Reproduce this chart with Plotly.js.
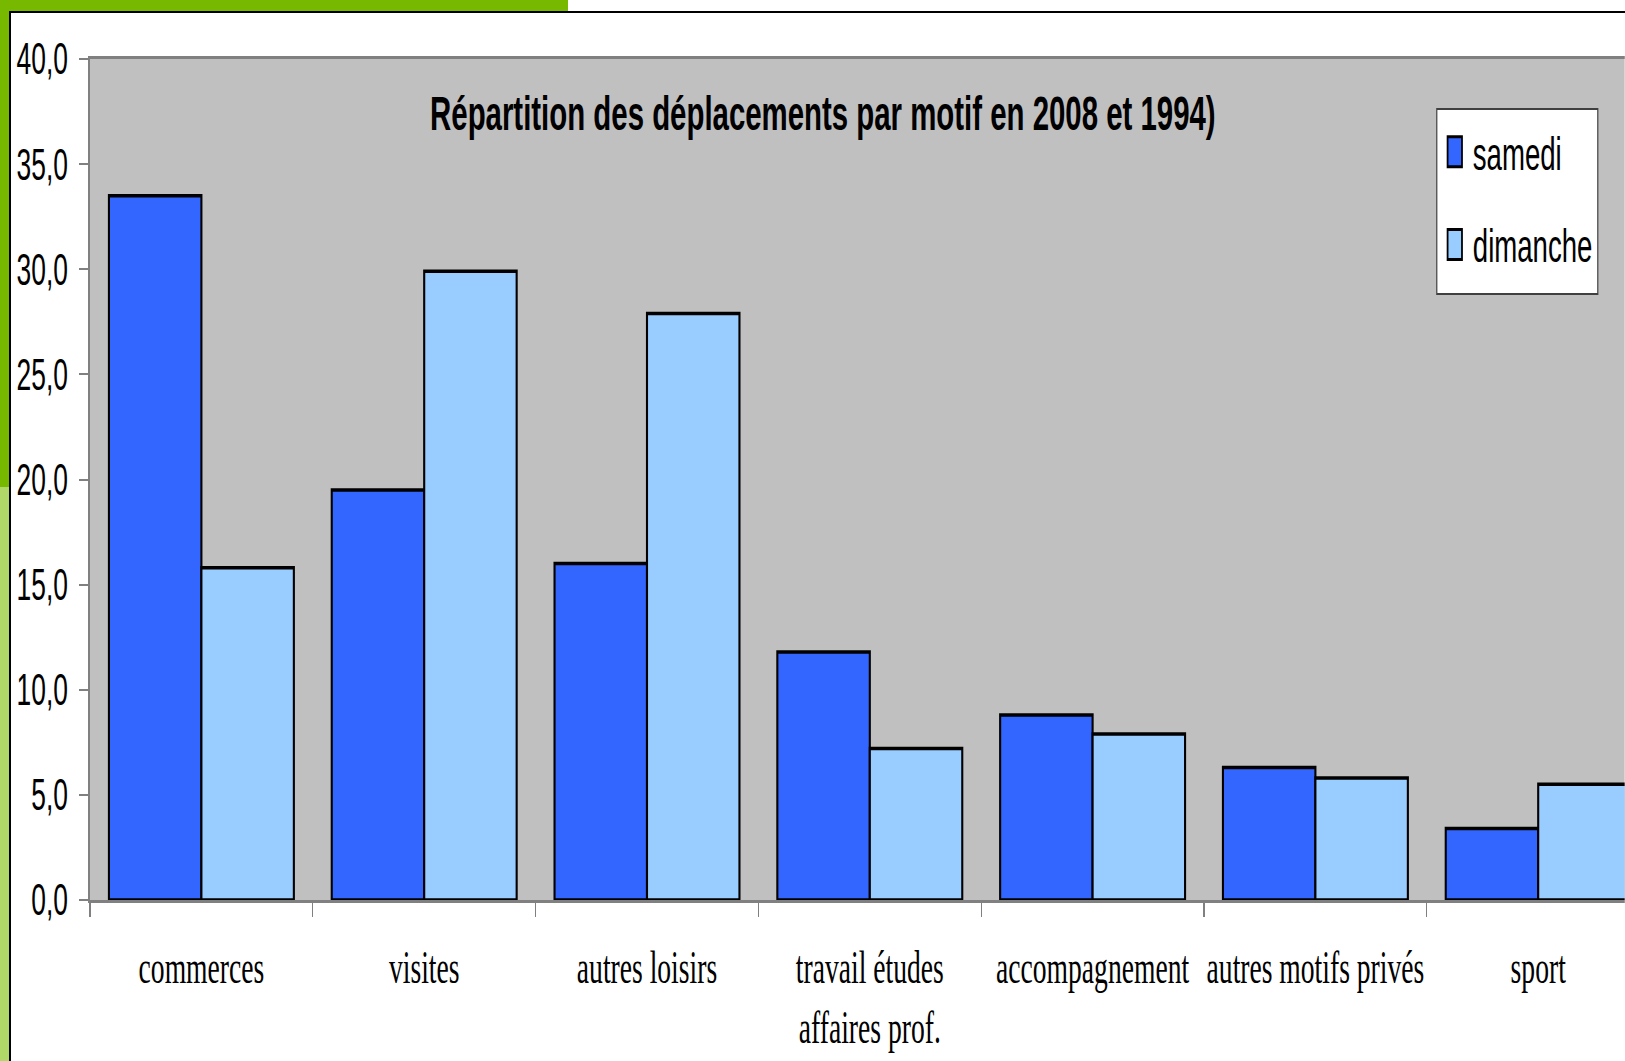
<!DOCTYPE html>
<html>
<head>
<meta charset="utf-8">
<script src="https://cdn.plot.ly/plotly-3.0.1.min.js"></script>
<style>
  body { margin: 0; background: #ffffff; overflow: hidden; }
  #frame-top-green { position: absolute; left: 0; top: 0; width: 568px; height: 11px; background: #76b900; }
  #frame-left-dark { position: absolute; left: 0; top: 0; width: 9px; height: 487px; background: #76b900; }
  #frame-left-light { position: absolute; left: 0; top: 487px; width: 9px; height: 574px; background: #b0d868; }
  #frame-top-line { position: absolute; left: 9px; top: 11px; width: 1616px; height: 2px; background: #000000; }
  #frame-left-line { position: absolute; left: 9px; top: 11px; width: 2px; height: 1050px; background: #000000; }
  #chart { position: absolute; left: 0; top: 0; transform-origin: 0 0; }
</style>
</head>
<body>
<div id="frame-top-green"></div>
<div id="frame-left-dark"></div>
<div id="frame-left-light"></div>
<div id="frame-top-line"></div>
<div id="frame-left-line"></div>
<div id="chart"></div>
<script>
// Répartition des déplacements par motif (samedi / dimanche)

var categories = ['commerces', 'visites', 'autres loisirs', 'travail études<br>affaires prof.',
    'accompagnement', 'autres motifs privés', 'sport'];
var samedi = [33.5, 19.5, 16.0, 11.8, 8.8, 6.3, 3.4];
var dimanche = [15.8, 29.9, 27.9, 7.2, 7.9, 5.8, 5.5];
var yTicks = [0, 5, 10, 15, 20, 25, 30, 35, 40];

// the original slide is squeezed horizontally, so draw wide and squeeze it back
var squeeze = 0.6;
var W = Math.round(1625 / squeeze);
var left = Math.round(90 / squeeze);
var catWidth = 222.8 / squeeze;
var xMax = -0.5 + (W - left) / catWidth;

var data = [{
        type: 'bar',
        name: 'samedi',
        x: categories,
        y: samedi,
        legendgroup: 'a',
        marker: { color: '#3366ff', line: { color: '#000000', width: 3.5 } },
        hoverinfo: 'skip'
    },
    {
        type: 'bar',
        name: 'dimanche',
        x: categories,
        y: dimanche,
        legendgroup: 'b',
        marker: { color: '#99ccff', line: { color: '#000000', width: 3.5 } },
        hoverinfo: 'skip'
    }
];

var layout = {
    width: W,
    height: 1061,
    margin: { l: left, r: 0, t: 59, b: 161 },
    paper_bgcolor: 'rgba(0,0,0,0)',
    plot_bgcolor: '#c0c0c0',
    separators: ', ',
    barmode: 'group',
    bargap: 0.17,
    bargroupgap: 0,
    title: {
        text: 'Répartition des déplacements par motif en 2008 et 1994)',
        font: { family: 'Liberation Sans, Arial, sans-serif', size: 49, weight: 'bold', color: '#000000' },
        xref: 'paper', yref: 'paper',
        x: 0.4775, y: 0.936,
        xanchor: 'center', yanchor: 'middle'
    },
    // legend box drawn as a shape so its padding matches the slide
    shapes: [{
        type: 'rect', xref: 'paper', yref: 'paper',
        x0: 0.8775, x1: 0.9824, y0: 0.7206, y1: 0.9405,
        fillcolor: '#ffffff',
        line: { color: '#404040', width: 2 }
    }],
    legend: {
        x: 0.8775, y: 0.933,
        xanchor: 'left', yanchor: 'top',
        bgcolor: 'rgba(0,0,0,0)',
        borderwidth: 0,
        traceorder: 'grouped',
        tracegroupgap: 30,
        itemwidth: 50,
        font: { family: 'Liberation Sans, Arial, sans-serif', size: 46, color: '#000000' }
    },
    xaxis: {
        type: 'category',
        range: [-0.5, xMax],
        showline: true, mirror: true,
        linecolor: '#808080', linewidth: 3,
        ticks: 'outside', ticklen: 14, tickwidth: 2, tickcolor: '#808080',
        tickson: 'boundaries',
        tickangle: 0,
        showgrid: false, zeroline: false,
        tickfont: { family: 'Liberation Serif, Times New Roman, serif', size: 46, color: '#000000' },
        ticklabelstandoff: 25,
        automargin: false
    },
    yaxis: {
        range: [0, 40],
        tickvals: yTicks,
        tickformat: '.1f',
        showline: true,
        linecolor: '#808080', linewidth: 3,
        ticks: 'outside', ticklen: 15, tickwidth: 2, tickcolor: '#808080',
        showgrid: false, zeroline: false,
        tickfont: { family: 'Liberation Sans, Arial, sans-serif', size: 44, color: '#000000' },
        ticklabelstandoff: 10,
        automargin: false
    },
    showlegend: true
};

Plotly.newPlot('chart', data, layout, { staticPlot: true }).then(function (gd) {
    // tall legend swatches, like the boxes of the slide
    gd.querySelectorAll('.legendpoints path').forEach(function (p) {
        p.setAttribute('d', 'M-12,-15H12V15H-12Z');
        p.style.strokeWidth = '3px';
    });
    gd.style.transform = 'scaleX(' + squeeze + ')';
});
</script>
</body>
</html>
